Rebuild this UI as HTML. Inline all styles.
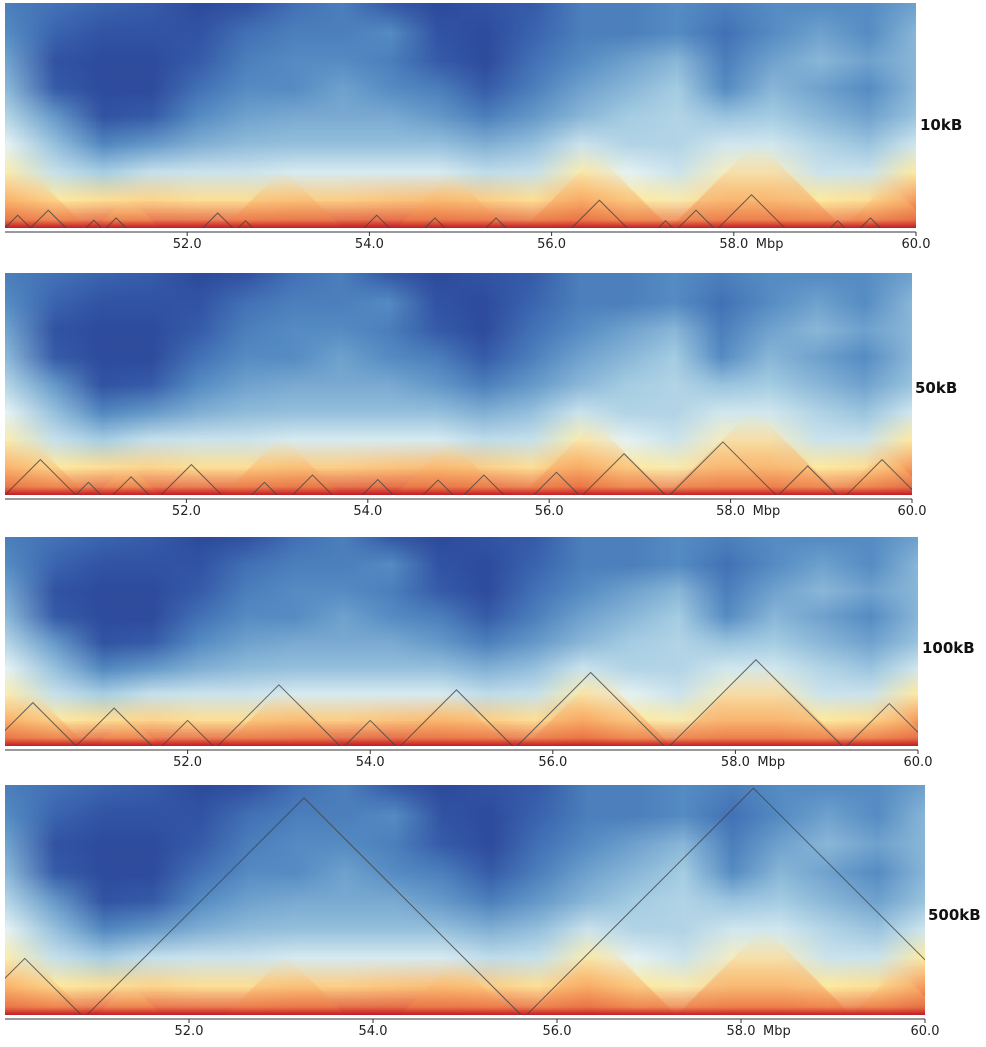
<!DOCTYPE html>
<html><head><meta charset="utf-8">
<style>
body{margin:0;background:#fff;width:986px;height:1047px;overflow:hidden;position:relative;font-family:"DejaVu Sans","Liberation Sans",sans-serif}
canvas{position:absolute}
svg{position:absolute;left:0;top:0}
</style></head>
<body>
<canvas id="c1"></canvas>
<canvas id="c2"></canvas>
<canvas id="c3"></canvas>
<canvas id="c4"></canvas>
<svg id="ov" width="986" height="1047"></svg>
<script>
// contact intensity grid (rows top->bottom, 20 columns), 0=dark blue, 1=red
const gridRows = [
[0.3,0.25,0.2,0.15,0.05,0.1,0.25,0.3,0.15,0.05,0.1,0.15,0.3,0.3,0.35,0.3,0.35,0.35,0.35,0.4],
[0.35,0.2,0.1,0.1,0.1,0.25,0.3,0.3,0.35,0.1,0.05,0.2,0.3,0.3,0.35,0.25,0.35,0.4,0.35,0.45],
[0.4,0.1,0.05,0.05,0.15,0.3,0.35,0.35,0.3,0.15,0.05,0.25,0.35,0.4,0.45,0.3,0.4,0.45,0.4,0.45],
[0.45,0.15,0.05,0.05,0.25,0.35,0.35,0.4,0.35,0.3,0.15,0.3,0.4,0.45,0.5,0.35,0.45,0.4,0.35,0.45],
[0.52,0.38,0.1,0.15,0.35,0.4,0.42,0.42,0.42,0.38,0.3,0.38,0.45,0.5,0.52,0.48,0.5,0.45,0.4,0.48],
[0.6,0.47,0.33,0.38,0.43,0.46,0.47,0.47,0.47,0.47,0.43,0.47,0.56,0.52,0.52,0.57,0.57,0.52,0.48,0.57],
[0.68,0.55,0.5,0.55,0.56,0.56,0.58,0.58,0.58,0.58,0.54,0.55,0.68,0.6,0.56,0.66,0.66,0.56,0.56,0.7],
[0.8,0.7,0.72,0.74,0.72,0.72,0.75,0.75,0.77,0.78,0.75,0.72,0.8,0.7,0.68,0.74,0.74,0.7,0.72,0.84],
[0.93,0.9,0.92,0.92,0.92,0.92,0.93,0.93,0.93,0.93,0.92,0.9,0.93,0.88,0.88,0.9,0.9,0.88,0.9,0.95]
];
// enriched domain regions (Mbp start, end) shown as warm triangles
const hotDomains = [[49.7,50.9],[51.0,51.7],[52.4,53.7],[54.3,55.5],[55.7,57.3],[57.3,59.2],[59.2,60.2]];
const tickValues = [52,54,56,58,60];
const tickLabels = ["52.0","54.0","56.0","58.0","60.0"];
const panelLabels = ["10kB","50kB","100kB","500kB"];
const tads10 = [[50,50.28],[50.28,50.67],[50.89,51.06],[51.11,51.33],[52.17,52.5],[52.56,52.72],[53.94,54.22],[54.61,54.83],[55.28,55.5],[56.22,56.83],[57.17,57.33],[57.39,57.78],[57.83,58.56],[59.06,59.22],[59.39,59.61]];
const tads50 = [[50,50.78],[50.78,51.06],[51.19,51.59],[51.72,52.39],[52.72,53],[53.17,53.61],[53.94,54.28],[54.61,54.94],[55.06,55.5],[55.83,56.33],[56.37,57.28],[57.33,58.5],[58.53,59.17],[59.28,60.06]];
const tads100 = [[49.83,50.78],[50.78,51.61],[51.72,52.28],[52.33,53.67],[53.72,54.28],[54.33,55.56],[55.61,57.22],[57.28,59.17],[59.22,60.15]];
const tads500 = [[49.6,50.83],[50.89,55.61],[55.67,60.6]];

const panels=[
 {id:'c1',x:5,y:3,w:911,h:225,tads:tads10,lx:920,ly:125},
 {id:'c2',x:5,y:273,w:907,h:222,tads:tads50,lx:915,ly:388},
 {id:'c3',x:5,y:537,w:913,h:209,tads:tads100,lx:922,ly:648},
 {id:'c4',x:5,y:785,w:920,h:230,tads:tads500,lx:928,ly:915}
];
const stops=[[0,[42,66,150]],[0.2,[58,100,175]],[0.35,[85,140,195]],[0.5,[165,205,227]],[0.6,[228,242,244]],[0.7,[254,234,160]],[0.82,[250,170,100]],[0.92,[228,90,60]],[1,[180,20,38]]];
function cmap(v){for(let i=1;i<stops.length;i++){if(v<=stops[i][0]){const a=stops[i-1],b=stops[i],t=(v-a[0])/(b[0]-a[0]);return a[1].map((c,k)=>Math.round(c+(b[1][k]-c)*t));}}return stops[stops.length-1][1];}
const NS='http://www.w3.org/2000/svg';
const ov=document.getElementById('ov');
function mk(tag,attrs){const e=document.createElementNS(NS,tag);for(const k in attrs)e.setAttribute(k,attrs[k]);ov.appendChild(e);return e;}
panels.forEach((p,pi)=>{
 const cv=document.getElementById(p.id);
 cv.width=p.w;cv.height=p.h;cv.style.left=p.x+'px';cv.style.top=p.y+'px';
 const small=document.createElement('canvas');
 const R=gridRows.length,C=gridRows[0].length;
 small.width=C;small.height=R;
 const sc=small.getContext('2d');const img=sc.createImageData(C,R);
 gridRows.forEach((row,r)=>row.forEach((v,c)=>{const col=cmap(v);const o=(r*C+c)*4;img.data[o]=col[0];img.data[o+1]=col[1];img.data[o+2]=col[2];img.data[o+3]=255;}));
 sc.putImageData(img,0,0);
 const ctx=cv.getContext('2d');ctx.imageSmoothingEnabled=true;
 ctx.drawImage(small,0,0,C,R,-p.w/C/2,-p.h/R/2,p.w+p.w/C,p.h+p.h/R);
 const lx=v=>(v-50)/10*p.w;
 // warm domain triangles
 hotDomains.forEach(d=>{
  const x0=lx(d[0]),x1=lx(d[1]),hh=Math.min((x1-x0)/2,p.h*0.5);
  const g=ctx.createLinearGradient(0,p.h,0,p.h-hh);
  g.addColorStop(0,'rgba(235,110,60,0.55)');
  g.addColorStop(0.5,'rgba(250,180,105,0.45)');
  g.addColorStop(1,'rgba(254,232,160,0.0)');
  ctx.fillStyle=g;ctx.beginPath();ctx.moveTo(x0,p.h);ctx.lineTo((x0+x1)/2,p.h-hh);ctx.lineTo(x1,p.h);ctx.closePath();ctx.fill();
 });
 const gb=ctx.createLinearGradient(0,p.h-8,0,p.h);
 gb.addColorStop(0,'rgba(200,40,40,0)');gb.addColorStop(1,'rgba(190,20,38,0.9)');
 ctx.fillStyle=gb;ctx.fillRect(0,p.h-8,p.w,8);

 const xs=v=>p.x+lx(v);
 const base=p.y+p.h;
 const cid='clip'+pi;
 const cp=mk('clipPath',{id:cid});const rr=document.createElementNS(NS,'rect');
 rr.setAttribute('x',p.x);rr.setAttribute('y',p.y);rr.setAttribute('width',p.w);rr.setAttribute('height',p.h);cp.appendChild(rr);
 p.tads.forEach(t=>{
  const x0=xs(t[0]),x1=xs(t[1]),hh=(x1-x0)/2;
  const pl=mk('polyline',{points:`${x0},${base} ${(x0+x1)/2},${base-hh} ${x1},${base}`,fill:'none',stroke:'#444',"stroke-width":1,"stroke-opacity":0.8,"clip-path":`url(#${cid})`});
  
  
 });
 const ay=base+4;
 const ax=mk('line',{x1:p.x,x2:p.x+p.w,y1:ay,y2:ay,stroke:'#333',"stroke-width":1});
 
 
 tickValues.forEach((v,i)=>{
  const tx=xs(v);
  const tl=mk('line',{x1:tx,x2:tx,y1:ay,y2:ay+4,stroke:'#333'});
  
  
  const te=mk('text',{x:tx,y:ay+16,"text-anchor":"middle","font-size":13,fill:'#222'});
  te.textContent=tickLabels[i];
  
  
 });
 const mb=mk('text',{x:xs(58)+22,y:ay+16,"font-size":13,fill:'#222'});mb.textContent='Mbp';
 
 
 const lb=mk('text',{x:p.lx,y:p.ly+5,"font-size":15,"font-weight":"bold",fill:'#111'});
 lb.textContent=panelLabels[pi];
 
 
});
</script>
</body></html>
